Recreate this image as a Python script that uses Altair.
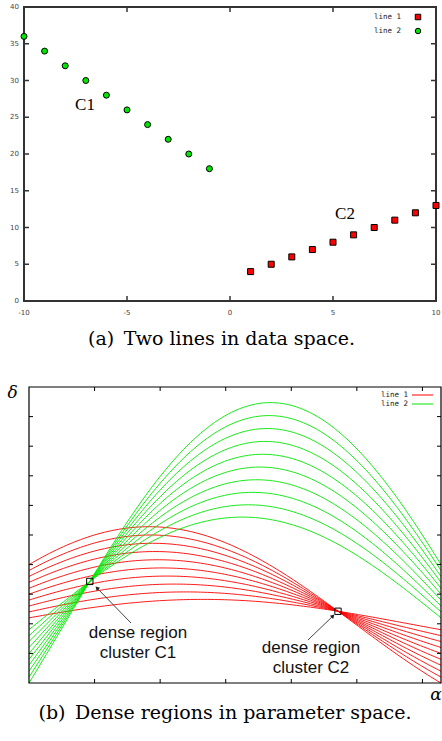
import math
import numpy as np
import pandas as pd
import altair as alt

# ---------------- data ----------------
line1_x = [1, 2, 3, 4, 5, 6, 7, 8, 9, 10]
line1_y = [4, 5, 6, 7, 8, 9, 10, 11, 12, 13]
line2_x = [-10, -9, -8, -7, -6, -5, -4, -3, -2, -1]
line2_y = [36, 34, 32, 30, 28, 26, 24, 22, 20, 18]

top_xticks = [-10, -5, 0, 5, 10]
top_xtick_labels = ["-10", "-5", "0", "5", "10"]
top_yticks = [0, 5, 10, 15, 20, 25, 30, 35, 40]
top_ytick_labels = ["0", "5", "10", "15", "20", "25", "30", "35", "40"]

bot_alpha_ticks = [0.5, 1.0, 1.5, 2.0, 2.5, 3.0]
bot_delta_ticks = [-5, 0, 5, 10, 15, 20, 25, 30, 35]

alpha_grid = list(np.linspace(0, math.pi, 121))

dense_alpha = [0.4636, 2.3562]
dense_delta = [7.155, 2.121]
arrow_tail_alpha = [0.778, 2.127]
arrow_tail_delta = [0.135, -2.74]
arrow_head_alpha = [0.5185, 2.318]
arrow_head_delta = [6.047, 1.318]

RED = "#ff0000"
GREEN = "#00e600"

# ---------------- scales ----------------
def sx_top():
    return alt.Scale(domain=[-10, 10], range=[24, 436], nice=False, zero=False)

def sy_top():
    return alt.Scale(domain=[0, 40], range=[301, 7], nice=False, zero=False)

def sx_bot():
    return alt.Scale(domain=[0, math.pi], range=[29, 441], nice=False, zero=False)

def sy_bot():
    return alt.Scale(domain=[-10, 40], range=[683, 387], nice=False, zero=False)

layers = []

# ================= panel (a) =================
frame_a = pd.DataFrame({"x": [-10], "x2": [10], "y": [0], "y2": [40]})
layers.append(
    alt.Chart(frame_a).mark_rect(fillOpacity=0, stroke="#333333", strokeWidth=2).encode(
        x=alt.X("x:Q", scale=sx_top(), axis=None), x2="x2:Q",
        y=alt.Y("y:Q", scale=sy_top(), axis=None), y2="y2:Q")
)

xt = pd.DataFrame({"v": top_xticks, "lab": top_xtick_labels})
yt = pd.DataFrame({"v": top_yticks, "lab": top_ytick_labels})
for y0, y1 in [(301, 296), (7, 12)]:
    layers.append(alt.Chart(xt).mark_rule(color="#333333", strokeWidth=1.5).encode(
        x=alt.X("v:Q", scale=sx_top(), axis=None), y=alt.value(y0), y2=alt.value(y1)))
for x0, x1 in [(24, 29), (436, 431)]:
    layers.append(alt.Chart(yt).mark_rule(color="#333333", strokeWidth=1.5).encode(
        y=alt.Y("v:Q", scale=sy_top(), axis=None), x=alt.value(x0), x2=alt.value(x1)))
layers.append(alt.Chart(xt).mark_text(font="DejaVu Sans", fontSize=7, color="#444444", baseline="middle").encode(
    x=alt.X("v:Q", scale=sx_top(), axis=None), y=alt.value(313), text="lab:N"))
layers.append(alt.Chart(yt).mark_text(font="DejaVu Sans", fontSize=7, color="#444444", baseline="middle", align="right").encode(
    y=alt.Y("v:Q", scale=sy_top(), axis=None), x=alt.value(19), text="lab:N"))

pts1 = pd.DataFrame({"x": line1_x, "y": line1_y})
pts2 = pd.DataFrame({"x": line2_x, "y": line2_y})
layers.append(alt.Chart(pts1).mark_point(shape="square", filled=True, size=36, fill=RED, stroke="black",
                                         strokeWidth=1, opacity=1).encode(
    x=alt.X("x:Q", scale=sx_top(), axis=None), y=alt.Y("y:Q", scale=sy_top(), axis=None)))
layers.append(alt.Chart(pts2).mark_point(shape="circle", filled=True, size=36, fill=GREEN, stroke="black",
                                         strokeWidth=1, opacity=1).encode(
    x=alt.X("x:Q", scale=sx_top(), axis=None), y=alt.Y("y:Q", scale=sy_top(), axis=None)))

# labels C1 / C2
layers.append(alt.Chart(pd.DataFrame({"t": ["C1"]})).mark_text(font="Liberation Serif", fontSize=17, align="center",
                                                                baseline="alphabetic", color="black").encode(
    x=alt.value(85), y=alt.value(110), text="t:N"))
layers.append(alt.Chart(pd.DataFrame({"t": ["C2"]})).mark_text(font="Liberation Serif", fontSize=17, align="center",
                                                                baseline="alphabetic", color="black").encode(
    x=alt.value(345), y=alt.value(219), text="t:N"))

# legend (a)
for lab, yy, shape, col in [("line 1", 17, "square", RED), ("line 2", 31, "circle", GREEN)]:
    layers.append(alt.Chart(pd.DataFrame({"t": [lab]})).mark_text(font="DejaVu Sans Mono", fontSize=7.5, align="right",
                                                                   baseline="middle", color="#222222").encode(
        x=alt.value(401), y=alt.value(yy), text="t:N"))
    layers.append(alt.Chart(pd.DataFrame({"t": [lab]})).mark_point(shape=shape, filled=True, size=30, fill=col,
                                                                    stroke="black", strokeWidth=1, opacity=1).encode(
        x=alt.value(418), y=alt.value(yy)))

# caption (a)
layers.append(alt.Chart(pd.DataFrame({"t": ["(a)\u2002Two lines in data space."]})).mark_text(
    font="DejaVu Serif", fontSize=19, align="center", baseline="alphabetic", color="black").encode(
    x=alt.value(221.5), y=alt.value(345), text="t:N"))

# ================= panel (b) =================
def curve_rows(xs, ys):
    rows = []
    for i, (px, py) in enumerate(zip(xs, ys)):
        for a in alpha_grid:
            rows.append({"id": i, "px": px, "py": py, "alpha": float(a)})
    return pd.DataFrame(rows)

for xs, ys, col in [(line1_x, line1_y, RED), (line2_x, line2_y, GREEN)]:
    layers.append(
        alt.Chart(curve_rows(xs, ys)).transform_calculate(
            delta="datum.px * cos(datum.alpha) + datum.py * sin(datum.alpha)"
        ).mark_line(color=col, strokeWidth=0.9, clip=True).encode(
            x=alt.X("alpha:Q", scale=sx_bot(), axis=None),
            y=alt.Y("delta:Q", scale=sy_bot(), axis=None),
            detail="id:N", order="alpha:Q")
    )

frame_b = pd.DataFrame({"x": [0.0], "x2": [math.pi], "y": [-10], "y2": [40]})
layers.append(
    alt.Chart(frame_b).mark_rect(fillOpacity=0, stroke="black", strokeWidth=1.2).encode(
        x=alt.X("x:Q", scale=sx_bot(), axis=None), x2="x2:Q",
        y=alt.Y("y:Q", scale=sy_bot(), axis=None), y2="y2:Q")
)
bxt = pd.DataFrame({"v": bot_alpha_ticks})
byt = pd.DataFrame({"v": bot_delta_ticks})
for y0, y1 in [(683, 679), (387, 391)]:
    layers.append(alt.Chart(bxt).mark_rule(color="black", strokeWidth=1).encode(
        x=alt.X("v:Q", scale=sx_bot(), axis=None), y=alt.value(y0), y2=alt.value(y1)))
for x0, x1 in [(29, 33), (441, 437)]:
    layers.append(alt.Chart(byt).mark_rule(color="black", strokeWidth=1).encode(
        y=alt.Y("v:Q", scale=sy_bot(), axis=None), x=alt.value(x0), x2=alt.value(x1)))

# dense-region boxes
dense = pd.DataFrame({"a": dense_alpha, "d": dense_delta})
layers.append(alt.Chart(dense).mark_point(shape="square", filled=False, size=40, stroke="black",
                                          strokeWidth=1, opacity=1).encode(
    x=alt.X("a:Q", scale=sx_bot(), axis=None), y=alt.Y("d:Q", scale=sy_bot(), axis=None)))

# arrows
arrows = pd.DataFrame({"ta": arrow_tail_alpha, "td": arrow_tail_delta,
                       "ha": arrow_head_alpha, "hd": arrow_head_delta})
layers.append(alt.Chart(arrows).mark_rule(color="#444444", strokeWidth=1).encode(
    x=alt.X("ta:Q", scale=sx_bot(), axis=None), x2="ha:Q",
    y=alt.Y("td:Q", scale=sy_bot(), axis=None), y2="hd:Q"))
for i, ang in [(0, 316), (1, 46)]:
    layers.append(alt.Chart(arrows.iloc[[i]]).mark_point(shape="triangle-up", filled=True, size=22,
                                                          color="#222222", opacity=1, angle=ang).encode(
        x=alt.X("ha:Q", scale=sx_bot(), axis=None), y=alt.Y("hd:Q", scale=sy_bot(), axis=None)))

# annotation texts
for txt, xx, yy in [("dense region", 138, 638), ("cluster C1", 138, 658),
                    ("dense region", 311, 653), ("cluster C2", 311, 673)]:
    layers.append(alt.Chart(pd.DataFrame({"t": [txt]})).mark_text(
        font="Liberation Sans", fontSize=17, align="center", baseline="alphabetic", color="#111111").encode(
        x=alt.value(xx), y=alt.value(yy), text="t:N"))

# legend (b)
for lab, yy, col in [("line 1", 395, RED), ("line 2", 404, GREEN)]:
    layers.append(alt.Chart(pd.DataFrame({"t": [lab]})).mark_text(font="DejaVu Sans Mono", fontSize=7.5, align="right",
                                                                   baseline="middle", color="#222222").encode(
        x=alt.value(408), y=alt.value(yy), text="t:N"))
    layers.append(alt.Chart(pd.DataFrame({"t": [lab]})).mark_rule(color=col, strokeWidth=1).encode(
        x=alt.value(412), x2=alt.value(433), y=alt.value(yy)))

# axis symbols
layers.append(alt.Chart(pd.DataFrame({"t": ["δ"]})).mark_text(
    font="DejaVu Serif", fontSize=17, fontStyle="italic", align="center", baseline="alphabetic", color="black").encode(
    x=alt.value(12.5), y=alt.value(398), text="t:N"))
layers.append(alt.Chart(pd.DataFrame({"t": ["α"]})).mark_text(
    font="DejaVu Serif", fontSize=17, fontStyle="italic", align="center", baseline="alphabetic", color="black").encode(
    x=alt.value(436), y=alt.value(700), text="t:N"))

# caption (b)
layers.append(alt.Chart(pd.DataFrame({"t": ["(b)\u2002Dense regions in parameter space."]})).mark_text(
    font="DejaVu Serif", fontSize=19, align="center", baseline="alphabetic", color="black").encode(
    x=alt.value(225), y=alt.value(719), text="t:N"))

chart = alt.layer(*layers).resolve_scale(x="independent", y="independent").properties(
    width=442, height=741, autosize=alt.AutoSizeParams(type="none"), padding=0, background="white"
).configure_view(stroke=None)

chart.save("out.html", embed_options={"renderer": "svg", "actions": False})
